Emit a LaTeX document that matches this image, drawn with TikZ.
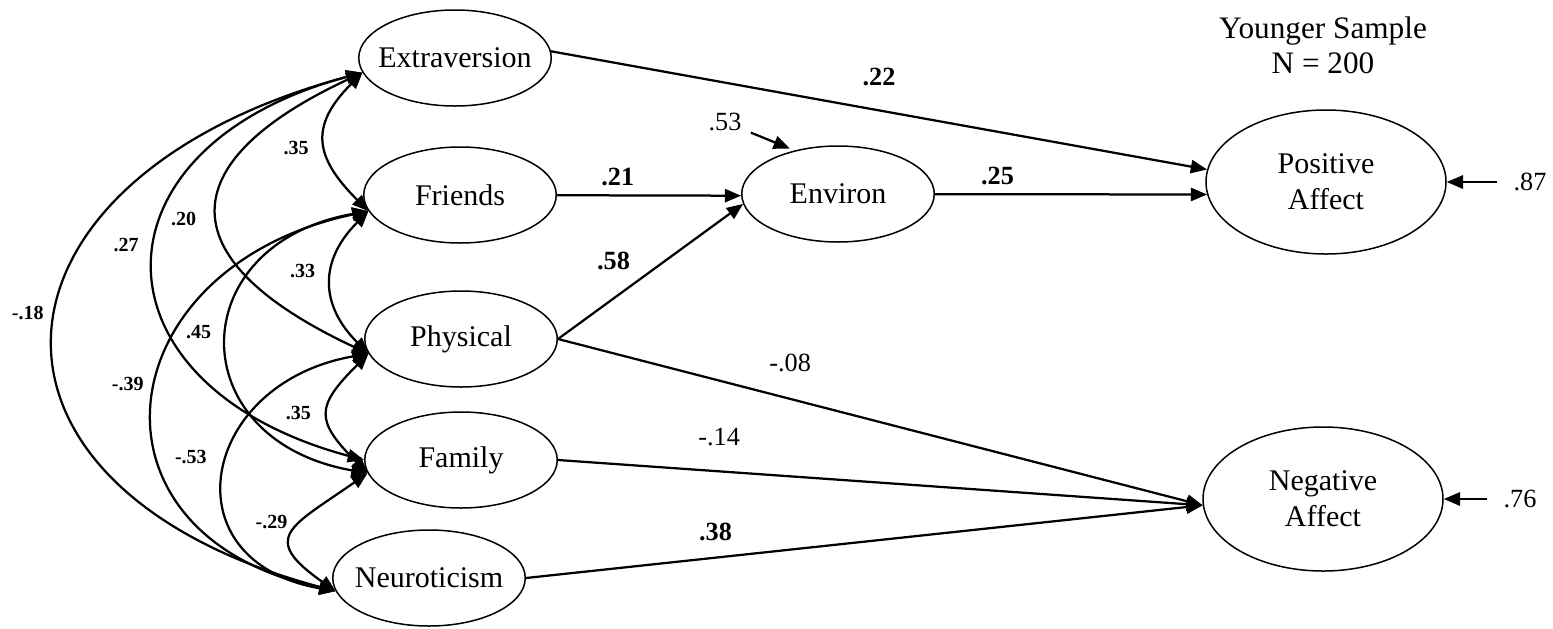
\documentclass[tikz,border=0pt]{standalone}
\usepackage{fontspec}
\setmainfont{Liberation Serif}
\usetikzlibrary{arrows.meta,shapes.geometric}
\tikzstyle{latent}=[ellipse, draw, line width=0.6pt, inner sep=0pt, minimum width=77pt, minimum height=38.4pt]
\tikzstyle{corr}=[line width=0.9pt, <->]
\tikzstyle{corlbl}=[left=4pt, inner sep=1pt, font=\fontsize{8}{9}\selectfont\bfseries]
\tikzstyle{coef}=[font=\fontsize{10.5}{12}\selectfont\bfseries]
\tikzstyle{coefns}=[font=\fontsize{10.5}{12}\selectfont]
\tikzstyle{resid}=[font=\fontsize{10.5}{12}\selectfont, inner xsep=6pt]
\newcommand{\latent}{\node[latent]}

\begin{document}
\begin{tikzpicture}[x=.4pt, y=.4pt, line width=0.9pt, every edge/.style={draw}, >={Triangle[length=6.5pt,width=5.3pt]}, every label/.style={align=center, font=\fontsize{12}{14.5}\selectfont}]
\useasboundingbox (0,0) rectangle (1553,-628);
\latent (extra) at (455,-58) [label=center:Extraversion] {};
\latent (friends) at (460,-195) [label=center:Friends] {};
\latent (phys) at (461,-339) [label=center:Physical] {};
\latent (fam) at (461,-460) [label=center:Family] {};
\latent (neuro) at (429,-578) [label=center:Neuroticism] {};
\latent (environ) at (838,-194) [label=center:Environ] {};
\latent (pos) at (1326,-182) [minimum width=96pt, minimum height=57.6pt, label=center:{Positive\\Affect}] {};
\latent (neg) at (1323,-499) [minimum width=96pt, minimum height=57.6pt, label=center:{Negative\\Affect}] {};
\node[align=center, font=\fontsize{12.5}{14}\selectfont] (title) at (1323,-45) {Younger Sample\\N = 200};
\node[coefns] (e53) at (725,-122) {.53};
\node[resid] (r87) at (1530,-182) {.87};
\node[resid] (r76) at (1520,-499) {.76};
\path[->]
(extra.4) edge node[coef, above=6pt] {.22} (pos.174)
(friends) edge node[coef, pos=0.33, above] {.21} (environ.181)
(environ) edge node[coef, pos=0.23, above] {.25} (pos.186)
(phys.east) edge node[coef, pos=0.44, above left] {.58} (environ.186)
 edge node[coefns, pos=0.36, above=7pt] {-.08} (neg.183)
(fam.east) edge node[coefns, pos=0.25, above=6.5pt] {-.14} (neg.183)
(neuro.east) edge node[coef, pos=0.28, above=3pt] {.38} (neg.183)
(e53) edge[shorten >=2pt] (environ.135)
(r87) edge (pos.east)
(r76) edge (neg.east);
\path[corr]
(extra.189) edge[out=225, in=135, looseness=1.4] node[corlbl, pos=0.55, left=1.5pt] {.35} (friends.190)
 edge[out=205, in=155, looseness=1.97] node[corlbl, pos=0.52, left=3.5pt] {.20} (phys.189)
 edge[out=195, in=165, looseness=1.9] node[corlbl, pos=0.455, left=1.5pt] {.27} (fam.180)
 edge[out=195, in=165, looseness=2] node[corlbl, pos=0.47, left=0pt] {-.18} (neuro.188)
(friends.190) edge[out=225, in=135, looseness=1.25] node[corlbl, pos=0.42, left=1.5pt] {.33} (phys.189)
 edge[out=190, in=170, looseness=1.85] node[corlbl, pos=0.47, left=1.5pt] {.45} (fam.188)
 edge[out=192, in=168, looseness=1.81] node[corlbl, pos=0.465] {-.39} (neuro.188)
(phys.189) edge[out=225, in=135, looseness=1.6] node[corlbl, left=1.5pt] {.35} (fam.188)
 edge[out=190, in=170, looseness=1.83] node[corlbl, pos=0.45, left=3.5pt] {-.53} (neuro.188)
(fam.188) edge[out=215, in=145, looseness=1.97] node[corlbl, pos=0.4] {-.29} (neuro.188);
\end{tikzpicture}
\end{document}
